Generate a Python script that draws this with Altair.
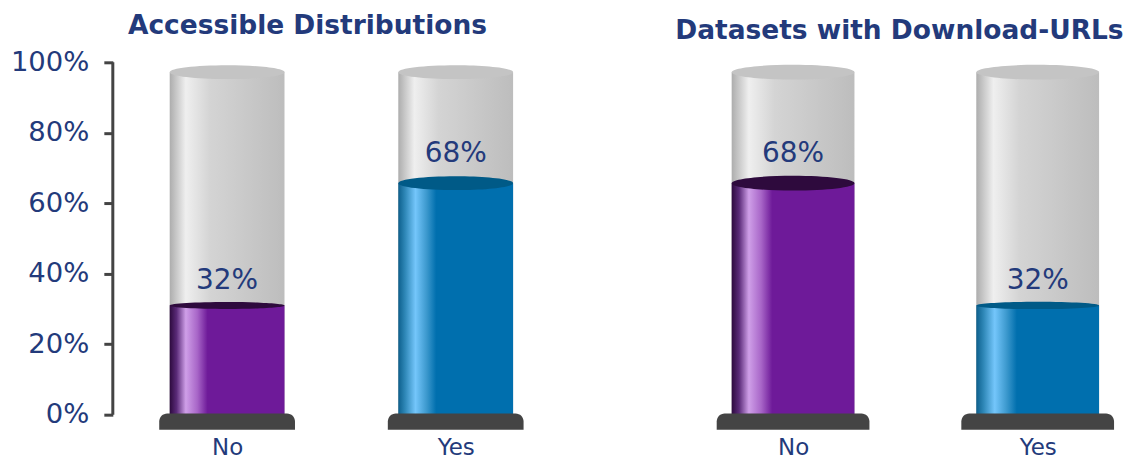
import altair as alt
import pandas as pd

categories = ["No", "Yes"]
panel_titles = ["Accessible Distributions", "Datasets with Download-URLs"]
fill_levels = [[31, 65.7], [65.7, 31]]
label_values = [[32, 68], [68, 32]]
y_ticks = [0, 20, 40, 60, 80, 100]
cylinder_top = 97.2
base_bottom = -4.25

TEXT = "#233a7b"
DARK = "#444444"
FONT = "DejaVu Sans"


def grad(stops):
    return alt.Gradient(
        gradient="linear", x1=0, x2=1, y1=0, y2=0,
        stops=[alt.GradientStop(offset=o, color=c) for o, c in stops],
    )


GRAY = grad([(0, "#adadad"), (0.14, "#efefef"), (0.35, "#d4d4d4"), (1, "#bdbdbd")])
PURPLE = grad([(0, "#2d0a3e"), (0.06, "#5a2a78"), (0.14, "#cf9fe8"), (0.24, "#a866c8"), (0.33, "#6e1a99"), (1, "#6e1a99")])
BLUE = grad([(0, "#0d5f8c"), (0.06, "#2f88b8"), (0.15, "#74c6fb"), (0.25, "#3a97cc"), (0.33, "#006fae"), (1, "#006fae")])
FILLS = [PURPLE, BLUE]
TOPS = ["#2e0a3d", "#005a87"]
yscale = alt.Scale(domain=[base_bottom, 100], nice=False, zero=False)


def ellipse(ratio):
    return f"M-1,0A1,{ratio} 0 1 1 1,0A1,{ratio} 0 1 1 -1,0Z"


def panel(idx, body_w, base_w, left_axis, x_padding, width, dx, offset):
    df = pd.DataFrame({
        "cat": categories,
        "level": fill_levels[idx],
        "label": label_values[idx],
        "txt": [f"{v}%" for v in label_values[idx]],
        "top": [cylinder_top, cylinder_top],
    })
    x = alt.X("cat:N", sort=categories, title=None,
              scale=alt.Scale(type="point", domain=categories, padding=x_padding),
              axis=alt.Axis(domain=False, ticks=False, labelAngle=0, labelFontSize=23,
                            labelColor=TEXT, labelFont=FONT, labelPadding=7))
    y_axis = alt.Axis(values=y_ticks, domain=False, grid=False, tickColor=DARK, tickWidth=3, tickSize=9,
                      labelFontSize=27.5, labelColor=TEXT, labelFont=FONT, labelPadding=15,
                      format=".0f", labelExpr="datum.value + '%'", title=None) if left_axis else None
    base = alt.Chart(df)
    layers = [
        base.mark_bar(size=body_w, fill=GRAY).encode(
            x=x, y=alt.Y("top:Q", scale=yscale, axis=y_axis, title=None), y2=alt.datum(0)),
        base.mark_point(shape=ellipse(0.12), size=body_w ** 2, filled=True, opacity=1, color="#c4c4c4").encode(
            x=x, y=alt.Y("top:Q", scale=yscale)),
    ]
    for i, cat in enumerate(categories):
        sub = alt.Chart(df).transform_filter(alt.datum.cat == cat)
        flat = 0.06 if fill_levels[idx][i] < 50 else 0.12
        layers.append(sub.mark_bar(size=body_w, fill=FILLS[i]).encode(
            x=x, y=alt.Y("level:Q", scale=yscale), y2=alt.datum(0)))
        layers.append(sub.mark_point(shape=ellipse(flat), size=body_w ** 2, filled=True, opacity=1, color=TOPS[i]).encode(
            x=x, y=alt.Y("level:Q", scale=yscale)))
    layers.append(base.mark_bar(size=base_w, color=DARK, cornerRadiusTopLeft=8, cornerRadiusTopRight=8,
                                cornerRadiusBottomLeft=0, cornerRadiusBottomRight=0).encode(
        x=x, y=alt.datum(0.3, scale=yscale), y2=alt.datum(base_bottom)))
    layers.append(base.mark_text(fontSize=28, font=FONT, color=TEXT, dy=-21, baseline="middle").encode(
        x=x, y=alt.Y("label:Q", scale=yscale), text="txt:N"))
    if left_axis:
        layers.append(alt.Chart(pd.DataFrame({"a": [0]})).mark_rule(color=DARK, strokeWidth=3).encode(
            x=alt.value(0), y=alt.datum(0, scale=yscale), y2=alt.datum(100)))
    return alt.layer(*layers).properties(
        width=width, height=368,
        title=alt.TitleParams(panel_titles[idx], font=FONT, fontSize=26.5, fontWeight="bold", color=TEXT,
                              anchor="middle", dx=dx, offset=offset),
    )


left = panel(0, 115, 136, True, 0.5, 458, -34, 9)
right = panel(1, 123, 153, False, 0.359, 421, -16, 18)

chart = alt.hconcat(left, right, spacing=135.5, bounds="flush").properties(
    padding={"left": 2, "top": 4, "right": 0, "bottom": 0}, background="white"
).configure_view(stroke=None)
chart.save("out.html", embed_options={"renderer": "svg", "actions": False})
